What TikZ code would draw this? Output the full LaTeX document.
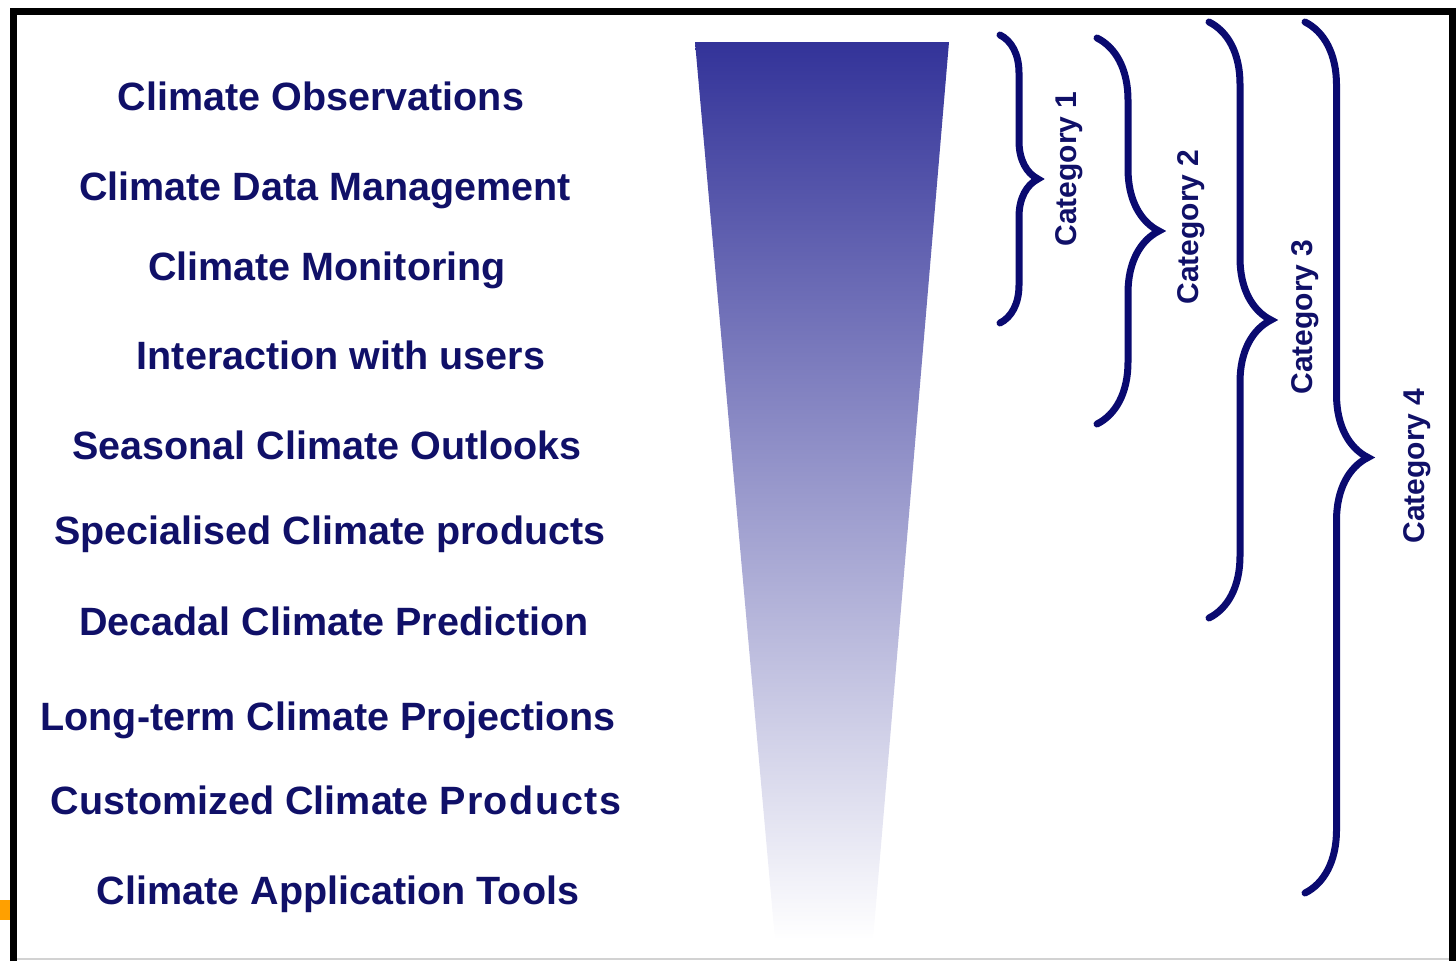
\documentclass[tikz,border=0pt]{standalone}
\usepackage{fontspec}
\setmainfont{Liberation Sans}
\usepackage{xcolor}
\usepackage{tikz}
\usetikzlibrary{decorations.pathreplacing}
\definecolor{navytext}{RGB}{16,16,104}
\definecolor{bracenavy}{RGB}{10,10,112}
\definecolor{funneltop}{RGB}{51,51,153}
\definecolor{slideorange}{RGB}{255,160,0}

\begin{document}
\begin{tikzpicture}[x=1pt,y=-1pt]
	\tikzstyle{item}=[text=navytext, font=\fontsize{39.5}{44}\selectfont\bfseries, anchor=base, inner sep=0pt]
	\tikzstyle{cat}=[text=navytext, font=\fontsize{30}{34}\selectfont\bfseries, rotate=90, inner sep=0pt]
	\tikzstyle{brace}=[draw=bracenavy, line width=7pt, line cap=round, decorate]
	\useasboundingbox (0,0) rectangle (1456,961);

	% slide edge
	\fill[slideorange] (0,900) rectangle (10,920);
	\draw[gray!35, line width=1.5pt] (13.5,959) -- (1452,959);
	\draw[line width=7pt] (13.5,961) -- (13.5,11) -- (1452,11) -- (1452,961);

	% funnel
	\shade[top color=funneltop, middle color=funneltop!42, bottom color=white]
		(695,42) -- (949,42) -- (873,940) -- (775,940) -- cycle;

	% services
	\node[item] (obs)  at (321,110) {Climate Observations};
	\node[item] (data) at (325,200) {Climate Data Management};
	\node[item] (mon)  at (327,280) {Climate Monitoring};
	\node[item] (user) at (341,369) {Interaction with users};
	\node[item] (seas) at (327,459) {Seasonal Climate Outlooks};
	\node[item] (spec) at (330,544) {Specialised Climate products};
	\node[item] (dec)  at (334,635) {Decadal Climate Prediction};
	\node[item] (long) at (328,730) {Long-term Climate Projections};
	\node[item] (cust) at (336,814) {Customized Climate {\addfontfeature{LetterSpace=4}Products}};
	\node[item] (tool) at (338,904) {Climate Application Tools};

	% categories
	\foreach \n/\x/\t/\b/\a/\lx/\ly in {1/1000/35/323/38/1069/169, 2/1097/38/424/62/1191/227,
		3/1209/22/618/62/1305/317, 4/1305/22/893/63/1417/466}{
		\coordinate (top\n) at (\x,\t);
		\coordinate (bot\n) at (\x,\b);
		\draw[brace, decoration={brace, amplitude=\a pt}] (top\n) -- (bot\n);
		\node[cat] (cat\n) at (\lx,\ly) {Category \n};
	}
\end{tikzpicture}
\end{document}
